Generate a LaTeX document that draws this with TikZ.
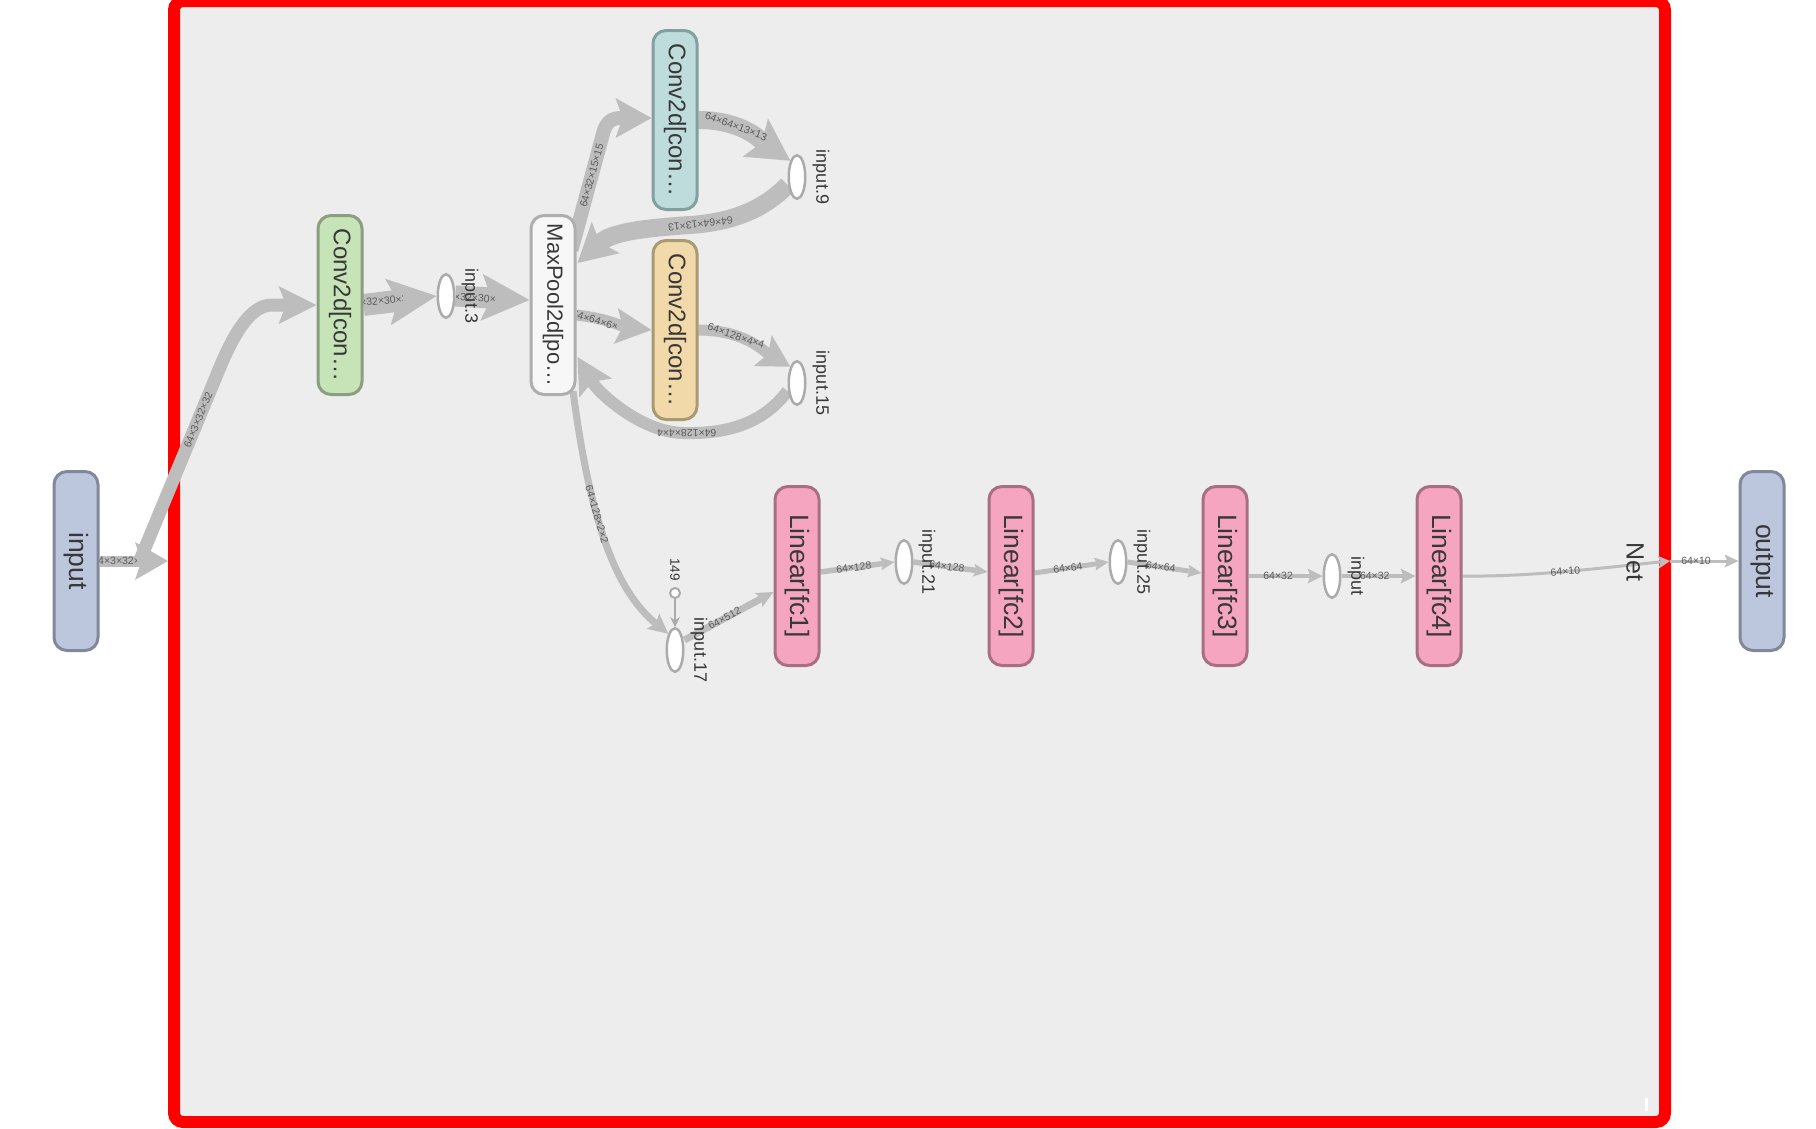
\documentclass[tikz,border=0pt]{standalone}
\usepackage{fontspec}
\setmainfont{Liberation Sans}
\usetikzlibrary{arrows.meta,positioning,shapes.geometric}
\definecolor{NetRed}{HTML}{FF0000}
\definecolor{NetFill}{HTML}{EDEDED}
\definecolor{FlowGray}{HTML}{BDBDBD}
\definecolor{TensorInk}{HTML}{5C5C5C}
\definecolor{NodeInk}{HTML}{383838}
\definecolor{IoFill}{HTML}{BCC6DD}
\definecolor{IoLine}{HTML}{808899}
\definecolor{ConvGreen}{HTML}{C7E3B8}
\definecolor{ConvGreenLine}{HTML}{8B9E80}
\definecolor{ConvTeal}{HTML}{BEDCDC}
\definecolor{ConvTealLine}{HTML}{82A0A0}
\definecolor{ConvSand}{HTML}{F1D9A9}
\definecolor{ConvSandLine}{HTML}{AA9A72}
\definecolor{PoolFill}{HTML}{F7F7F7}
\definecolor{PoolLine}{HTML}{AEAEAE}
\definecolor{FcPink}{HTML}{F5A5BF}
\definecolor{FcPinkLine}{HTML}{A86F82}
\definecolor{DotLine}{HTML}{ABABAB}
\pgfdeclarelayer{flows}
\pgfsetlayers{flows,main}
\newcommand{\downtext}[1]{\rotatebox{-90}{#1}}

\begin{document}
\begin{tikzpicture}[x=1pt,y=-1pt,
    box/.style={draw,line width=3pt,rounded corners=13pt,minimum width=44pt,minimum height=179pt,inner sep=0pt,text=NodeInk},
    io/.style={box,fill=IoFill,draw=IoLine,font=\fontsize{26.5}{30}\selectfont},
    fc/.style={box,fill=FcPink,draw=FcPinkLine,font=\fontsize{26.5}{30}\selectfont},
    conv/.style={box,font=\fontsize{24}{28}\selectfont},
    dot/.style={ellipse,draw=DotLine,fill=white,line width=2.5pt,minimum width=16.5pt,minimum height=43.5pt,inner sep=0pt},
    dotname/.style={font=\fontsize{18}{20}\selectfont,text=NodeInk,inner sep=0pt},
    tensortext/.style={font=\fontsize{10.5}{12}\selectfont,text=TensorInk,inner sep=0pt},
    tensor/.style={tensortext,sloped,allow upside down},
    flow/.style n args={3}{draw=FlowGray,line width=#1pt,-{Stealth[length=#2pt,width=#3pt,inset'=0pt 0.2,line width=0pt]}}]

  \useasboundingbox (0,0) rectangle (1816,1128);
  \begin{pgfonlayer}{flows}
    \fill[white] (0,0) rectangle (1816,1128);
    \draw[NetRed,line width=12pt,fill=NetFill,rounded corners=9pt] (174,1) rectangle (1665,1122);
    \fill[white] (1645,1098) rectangle (1647.5,1111);
  \end{pgfonlayer}

  % outside the Net group
  \node[io] (in) at (76,561) {\downtext{input}};
  \node[io] (out) at (1762,561) {\downtext{output}};
  \coordinate (netsplit) at (140,560);
  \coordinate (netin) at (168,561);
  \coordinate (netout) at (1670,561);

  % conv part
  \node[conv,fill=ConvGreen,draw=ConvGreenLine] (conv1) at (340,305) {\downtext{Conv2d[con…}};
  \node[dot] (in3) at (446,296) {};
  \node[dotname,right=6pt of in3] (in3txt) {\downtext{input.3}};
  \node[box,fill=PoolFill,draw=PoolLine,font=\fontsize{22}{26}\selectfont] (pool) at (553,305) {\downtext{MaxPool2d[po…}};
  \node[conv,fill=ConvTeal,draw=ConvTealLine] (conv2) at (675,120) {\downtext{Conv2d[con…}};
  \node[dot] (in9) at (797,177) {};
  \node[dotname,right=6pt of in9] (in9txt) {\downtext{input.9}};
  \node[conv,fill=ConvSand,draw=ConvSandLine] (conv3) at (675,330) {\downtext{Conv2d[con…}};
  \node[dot] (in15) at (797,383) {};
  \node[dotname,right=6pt of in15] (in15txt) {\downtext{input.15}};
  \node[dot] (in17) at (675,650) {};
  \node[dotname,right=6pt of in17] (in17txt) {\downtext{input.17}};
  \node[circle,draw=DotLine,fill=white,line width=2pt,minimum size=10pt,inner sep=0pt,above=28pt of in17] (c149) {};
  \node[font=\fontsize{13.5}{15}\selectfont,text=NodeInk,inner sep=0pt,above=6pt of c149] (c149txt) {\downtext{149}};

  % linear part
  \node[fc] (fc1) at (797,576) {\downtext{Linear[fc1]}};
  \node[dot,right=74pt of fc1,yshift=14pt] (in21) {};
  \node[dotname,right=5pt of in21] (in21txt) {\downtext{input.21}};
  \node[fc,right=74pt of in21,yshift=-14pt] (fc2) {\downtext{Linear[fc2]}};
  \node[dot,right=74pt of fc2,yshift=14pt] (in25) {};
  \node[dotname,right=6pt of in25] (in25txt) {\downtext{input.25}};
  \node[fc,right=74pt of in25,yshift=-14pt] (fc3) {\downtext{Linear[fc3]}};
  \node[dot,right=74pt of fc3] (inp) {};
  \node[dotname,right=6pt of inp] (inptxt) {\downtext{input}};
  \node[fc,right=74pt of inp] (fc4) {\downtext{Linear[fc4]}};
  \node[font=\fontsize{25}{30}\selectfont,text=NodeInk,inner sep=0pt] (netname) at (1635,562) {\downtext{Net}};

  \begin{pgfonlayer}{flows}
    \draw[flow={13}{38}{38}] (netsplit) -- node[tensor,pos=0.745]{64×3×32×32} (218,372) .. controls (233,335) and (250,305) .. (272,305) -- (conv1.west);
    \draw[flow={11}{33}{38}] (in) -- (netin);
    \begin{scope}
      \clip (99,545) rectangle (136,577);
      \node[tensortext] (t1) at (122,561) {64×3×32×32};
    \end{scope}
    \draw[flow={22}{49}{47}] (conv1.east) -- (in3.west);
    \begin{scope}
      \clip (363,280) rectangle (402,322);
      \node[tensortext,rotate=5] (t2) at (381,301) {64×32×30×30};
    \end{scope}
    \draw[flow={21}{48}{47}] (in3.east) -- ([yshift=5pt]pool.west);
    \begin{scope}
      \clip (456,280) rectangle (494,316);
      \node[tensortext,rotate=-3] (t3) at (475,298) {64×32×30×30};
    \end{scope}
    \draw[flow={14}{36}{40}] ([xshift=-5pt,yshift=55pt]pool.east) -- node[tensor,pos=0.62]{64×32×15×15} (604,130) .. controls (609,118) and (615,118) .. (625,118) -- ([yshift=2pt]conv2.west);
    \draw[flow={18}{42}{46}] (conv2.east) .. controls (745,120) and (765,144) .. node[tensor,pos=0.32]{64×64×13×13} (in9.north west);
    \draw[flow={18}{38}{42}] ([yshift=-8pt]in9.west) .. controls (765,208) and (735,222) .. node[tensor,pos=0.92]{64×64×13×13} (690,225) .. controls (645,228) and (612,232) .. ([xshift=1pt,yshift=42pt]pool.east);
    \draw[flow={11}{36}{36}] ([yshift=-10pt]pool.east) .. controls (605,318) and (625,327) .. (conv3.west);
    \begin{scope}
      \clip (577,295) rectangle (616,345);
      \node[tensortext,rotate=-17] (t4) at (598,321) {64×64×6×6};
    \end{scope}
    \draw[flow={11}{32}{36}] (conv3.east) .. controls (745,330) and (765,352) .. node[tensor,pos=0.32]{64×128×4×4} (in15.north west);
    \draw[flow={12}{36}{38}] ([yshift=-8pt]in15.west) .. controls (762,425) and (725,434) .. node[tensor,pos=0.97]{64×128×4×4} (683,433) .. controls (640,432) and (598,392) .. ([xshift=1pt,yshift=-52pt]pool.east);
    \draw[flow={7}{20}{20}] ([xshift=20pt,yshift=5pt]pool.south) .. controls (590,520) and (615,590) .. node[tensor,pos=0.38]{64×128×2×2} (in17.north west);
    \draw[draw=DotLine,line width=2pt,-{Stealth[length=10pt,width=10pt,line width=0pt]}] (c149) -- (in17);
    \draw[flow={7}{17}{16}] ([yshift=10pt]in17.east) -- node[tensor,pos=0.45]{64×512} ([yshift=-16pt]fc1.west);
    \draw[flow={5.5}{14}{13}] ([yshift=4pt]fc1.east) -- node[tensor,pos=0.45]{64×128} (in21.west);
    \draw[flow={5.5}{14}{13}] (in21.east) -- node[tensor,pos=0.45]{64×128} ([yshift=4pt]fc2.west);
    \draw[flow={5}{14}{13}] ([yshift=3pt]fc2.east) -- node[tensor,pos=0.45]{64×64} (in25.west);
    \draw[flow={5}{14}{13}] (in25.east) -- node[tensor,pos=0.45]{64×64} ([yshift=3pt]fc3.west);
    \draw[flow={4.5}{15}{15}] (fc3.east) -- node[tensor,pos=0.4]{64×32} (inp.west);
    \draw[flow={4.5}{15}{15}] (inp.east) -- node[tensor,pos=0.45]{64×32} (fc4.west);
    \draw[flow={3}{12}{13}] (fc4.east) .. controls (1530,577) and (1600,568) .. node[tensor,pos=0.5]{64×10} (netout);
    \draw[flow={3}{14}{13}] (netout) -- node[tensor,pos=0.38]{64×10} (out.west);
  \end{pgfonlayer}
\end{tikzpicture}
\end{document}
